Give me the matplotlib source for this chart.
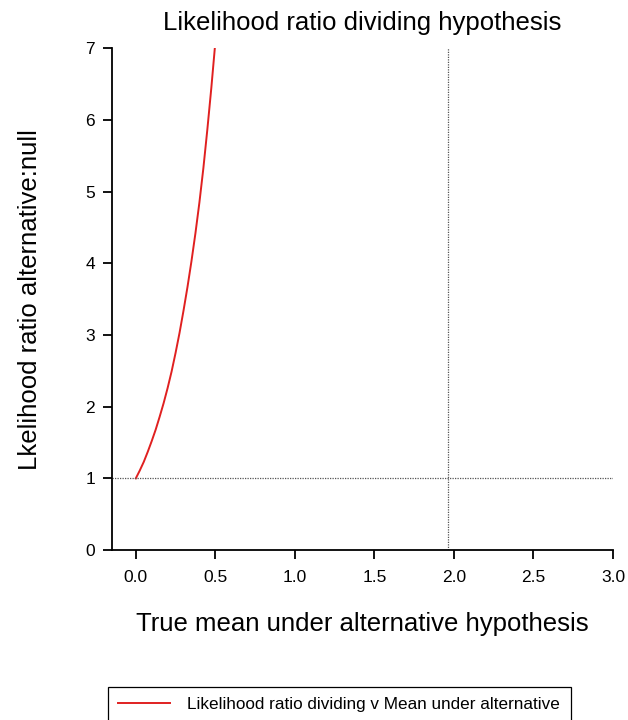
import matplotlib
matplotlib.use("Agg")
import matplotlib.pyplot as plt

plt.rcParams['font.family'] = ['Liberation Sans', 'DejaVu Sans']

# values
true_mean = [0.0, 0.025, 0.05, 0.075, 0.10, 0.125, 0.15, 0.175, 0.20, 0.225,
             0.25, 0.275, 0.30, 0.325, 0.35, 0.375, 0.40, 0.425, 0.45, 0.475, 0.50]
lik_ratio = [1.00, 1.11, 1.23, 1.37, 1.52, 1.68, 1.86, 2.05, 2.26, 2.49,
             2.75, 3.03, 3.34, 3.67, 4.03, 4.42, 4.85, 5.33, 5.87, 6.45, 7.08]
x_ticks = [0.0, 0.5, 1.0, 1.5, 2.0, 2.5, 3.0]
y_ticks = [0, 1, 2, 3, 4, 5, 6, 7]
null_ratio = 1.0
critical_z = 1.96

fig = plt.figure(figsize=(6.28, 7.2), dpi=100)
ax = fig.add_axes([0.178, 0.236, 0.798, 0.697])

ax.plot(true_mean, lik_ratio, color="#e02020", lw=1.4,
        label="Likelihood ratio dividing v Mean under alternative")
ax.axhline(null_ratio, color="#555555", lw=0.9, ls=(0, (1, 1)))
ax.axvline(critical_z, color="#555555", lw=0.9, ls=(0, (1, 1)))

ax.set_xlim(-0.151, 3.0)
ax.set_ylim(0, 7)
ax.set_xticks(x_ticks)
ax.set_xticklabels([f"{t:.1f}" for t in x_ticks])
ax.set_yticks(y_ticks)
for s in ["top", "right"]:
    ax.spines[s].set_visible(False)
for s in ["left", "bottom"]:
    ax.spines[s].set_linewidth(1.3)
ax.tick_params(width=1.3, length=6.5, labelsize=12.5, colors="black", pad=5.5)
ax.tick_params(axis="x", pad=8)

ax.set_title("Likelihood ratio dividing hypothesis", fontsize=18.5, pad=13)
ax.set_xlabel("True mean under alternative hypothesis", fontsize=18.5, labelpad=19)
ax.set_ylabel("Lkelihood ratio alternative:null", fontsize=18.5, labelpad=31)

leg = fig.legend(loc="upper left", bbox_to_anchor=(0.172, 0.046), fontsize=12.3,
                 fancybox=False, edgecolor="black", framealpha=1,
                 handlelength=3.0, handletextpad=1.05, borderpad=0.6,
                 borderaxespad=0)
leg.get_frame().set_linewidth(0.9)

fig.savefig("out.png", dpi=100)
